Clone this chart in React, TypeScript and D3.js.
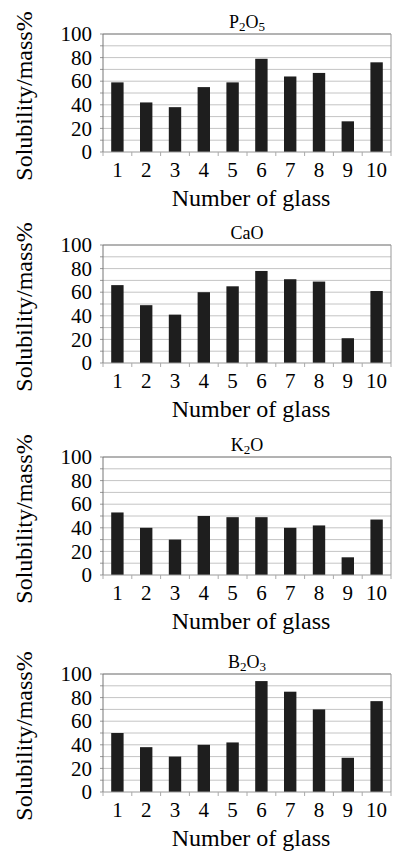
import { useEffect, useRef } from "react";
import * as d3 from "d3";

const glassNumbers = ["1", "2", "3", "4", "5", "6", "7", "8", "9", "10"];
const p2o5 = [59, 42, 38, 55, 59, 79, 64, 67, 26, 76];
const cao = [66, 49, 41, 60, 65, 78, 71, 69, 21, 61];
const k2o = [53, 40, 30, 50, 49, 49, 40, 42, 15, 47];
const b2o3 = [50, 38, 30, 40, 42, 94, 85, 70, 29, 77];
const yTicks = [0, 20, 40, 60, 80, 100];
const gridValues = [10, 20, 30, 40, 50, 60, 70, 80, 90];

// title pieces: [text, isSubscript]
const panels: { title: [string, boolean][]; values: number[] }[] = [
  { title: [["P", false], ["2", true], ["O", false], ["5", true]], values: p2o5 },
  { title: [["CaO", false]], values: cao },
  { title: [["K", false], ["2", true], ["O", false]], values: k2o },
  { title: [["B", false], ["2", true], ["O", false], ["3", true]], values: b2o3 },
];

const W = 393;
const H = 859;
const plotTops = [34, 245, 457, 674];
const plotH = 118;
const left = 103;
const right = 391;
const font = `"Liberation Serif", Tinos, "Times New Roman", Times, "DejaVu Serif", "Noto Serif", serif`;

export default function App() {
  const ref = useRef<SVGSVGElement>(null);

  useEffect(() => {
    const svg = d3.select(ref.current);
    svg.selectAll("*").remove();

    const x = d3
      .scaleBand()
      .domain(glassNumbers)
      .range([left, right])
      .paddingInner(0.57)
      .paddingOuter(0.285);

    panels.forEach((p, i) => {
      const top = plotTops[i];
      const y = d3.scaleLinear().domain([0, 100]).range([top + plotH, top]);
      const g = svg.append("g");

      // grid + small ticks on the left
      gridValues.forEach((v) => {
        g.append("line")
          .attr("x1", left).attr("x2", right)
          .attr("y1", y(v)).attr("y2", y(v))
          .attr("stroke", "#c4c4c4").attr("stroke-width", 1);
      });
      [0, ...gridValues, 100].forEach((v) => {
        g.append("line")
          .attr("x1", left - 3).attr("x2", left)
          .attr("y1", y(v)).attr("y2", y(v))
          .attr("stroke", "#999");
      });
      // frame
      g.append("line")
        .attr("x1", left).attr("x2", right)
        .attr("y1", y(100)).attr("y2", y(100))
        .attr("stroke", "#666").attr("stroke-width", 1);
      g.append("line")
        .attr("x1", left).attr("x2", left)
        .attr("y1", y(100)).attr("y2", y(0))
        .attr("stroke", "#777").attr("stroke-width", 1);
      g.append("line")
        .attr("x1", right).attr("x2", right)
        .attr("y1", y(100)).attr("y2", y(0))
        .attr("stroke", "#999").attr("stroke-width", 1);

      // bars
      g.selectAll("rect.bar")
        .data(p.values)
        .join("rect")
        .attr("class", "bar")
        .attr("x", (_, j) => x(glassNumbers[j])!)
        .attr("width", x.bandwidth())
        .attr("y", (d) => y(d))
        .attr("height", (d) => y(0) - y(d))
        .attr("fill", "#1e1e1e");

      // x axis line + ticks between categories
      g.append("line")
        .attr("x1", left).attr("x2", right)
        .attr("y1", y(0)).attr("y2", y(0))
        .attr("stroke", "#999").attr("stroke-width", 1);
      d3.range(glassNumbers.length + 1).forEach((k) => {
        const tx = left + k * x.step();
        g.append("line")
          .attr("x1", tx).attr("x2", tx)
          .attr("y1", y(0)).attr("y2", y(0) + 4)
          .attr("stroke", "#aaa");
      });

      // x tick labels
      glassNumbers.forEach((n) => {
        g.append("text")
          .attr("x", x(n)! + x.bandwidth() / 2)
          .attr("y", y(0) + 25)
          .attr("text-anchor", "middle")
          .style("font-family", font)
          .style("font-size", "21px")
          .text(n);
      });

      // y tick labels
      yTicks.forEach((t) => {
        g.append("text")
          .attr("x", 92)
          .attr("y", y(t))
          .attr("dy", "0.34em")
          .attr("text-anchor", "end")
          .style("font-family", font)
          .style("font-size", "21px")
          .text(t);
      });

      // title
      const title = g.append("text")
        .attr("x", (left + right) / 2)
        .attr("y", top - 6)
        .attr("text-anchor", "middle")
        .style("font-family", font)
        .style("font-size", "18px");
      p.title.forEach(([s, sub]) => {
        title.append("tspan")
          .style("font-size", sub ? "13px" : "18px")
          .attr("baseline-shift", sub ? "-25%" : null)
          .text(s);
      });

      // axis titles
      g.append("text")
        .attr("x", (left + right) / 2 + 4)
        .attr("y", y(0) + 54)
        .attr("text-anchor", "middle")
        .style("font-family", font)
        .style("font-size", "24px")
        .text("Number of glass");

      g.append("text")
        .attr("transform", `translate(32, ${top + plotH / 2 + 3}) rotate(-90)`)
        .attr("text-anchor", "middle")
        .style("font-family", font)
        .style("font-size", "24px")
        .text("Solubility/mass%");
    });
  }, []);

  return (
    <div>
      <svg
        ref={ref}
        width={W}
        height={H}
        style={{ position: "absolute", left: 0, top: 0, background: "#fff" }}
      />
    </div>
  );
}
